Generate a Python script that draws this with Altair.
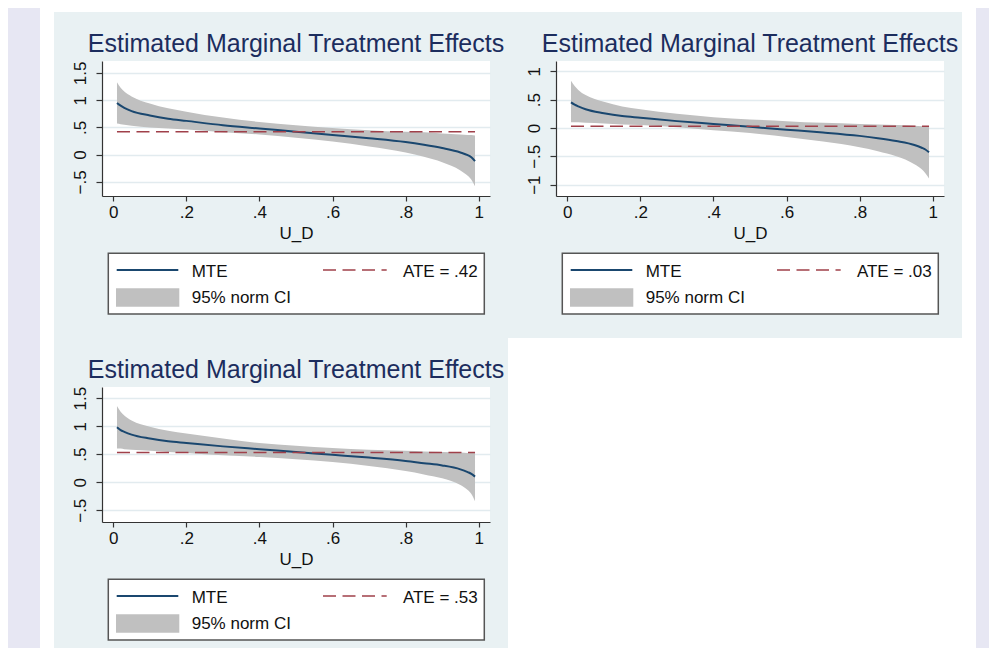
import altair as alt
import pandas as pd

# ---------------- data ----------------
U = [0.01, 0.02, 0.03, 0.05, 0.10, 0.15, 0.20, 0.30, 0.40, 0.50,
     0.60, 0.70, 0.80, 0.85, 0.90, 0.95, 0.97, 0.98, 0.99]

MTE_1 = [0.95, 0.90, 0.86, 0.80, 0.72, 0.66, 0.62, 0.54, 0.48, 0.42,
         0.36, 0.30, 0.23, 0.18, 0.12, 0.04, -0.01, -0.05, -0.12]
LO_1 = [0.57, 0.56, 0.55, 0.53, 0.50, 0.48, 0.46, 0.41, 0.37, 0.31,
        0.24, 0.15, 0.04, -0.04, -0.14, -0.29, -0.39, -0.46, -0.58]
HI_1 = [1.33, 1.23, 1.16, 1.07, 0.94, 0.85, 0.79, 0.68, 0.60, 0.54,
        0.49, 0.45, 0.42, 0.41, 0.39, 0.37, 0.36, 0.36, 0.35]

MTE_2 = [0.45, 0.41, 0.38, 0.33, 0.26, 0.21, 0.18, 0.12, 0.07, 0.02,
         -0.03, -0.08, -0.14, -0.18, -0.23, -0.30, -0.35, -0.38, -0.43]
LO_2 = [0.10, 0.10, 0.10, 0.09, 0.08, 0.06, 0.05, 0.01, -0.04, -0.09,
        -0.16, -0.24, -0.34, -0.41, -0.50, -0.64, -0.73, -0.80, -0.89]
HI_2 = [0.83, 0.74, 0.67, 0.58, 0.46, 0.38, 0.33, 0.25, 0.19, 0.15,
        0.12, 0.09, 0.07, 0.06, 0.05, 0.04, 0.03, 0.03, 0.03]

MTE_3 = [0.98, 0.93, 0.90, 0.85, 0.78, 0.73, 0.70, 0.64, 0.59, 0.54,
         0.49, 0.44, 0.38, 0.34, 0.30, 0.23, 0.18, 0.15, 0.10]
LO_3 = [0.60, 0.60, 0.59, 0.58, 0.56, 0.54, 0.52, 0.48, 0.45, 0.41,
        0.36, 0.29, 0.20, 0.14, 0.07, -0.05, -0.14, -0.21, -0.34]
HI_3 = [1.36, 1.26, 1.19, 1.10, 0.99, 0.92, 0.87, 0.78, 0.70, 0.65,
        0.61, 0.58, 0.56, 0.55, 0.54, 0.53, 0.52, 0.52, 0.52]

ATE = [0.42, 0.03, 0.53]

TITLE = "Estimated Marginal Treatment Effects"
X_TITLE = "U_D"
X_TICKS = [0, 0.2, 0.4, 0.6, 0.8, 1]
Y_TICKS_1 = [-0.5, 0, 0.5, 1, 1.5]
Y_TICKS_2 = [-1, -0.5, 0, 0.5, 1]
Y_TICKS_3 = [-0.5, 0, 0.5, 1, 1.5]
Y_DOM_1 = [-0.76, 1.72]
Y_DOM_2 = [-1.20, 1.18]
Y_DOM_3 = [-0.71, 1.70]
X_DOM = [-0.031, 1.031]
LEGEND_LABELS = ["MTE", "95% norm CI", "ATE = "]

# ---------------- styles ----------------
FONT = "Liberation Sans"
NAVY = "#1a476f"
RED = "#a0404a"
BAND = "#c0c0c0"
GRID = "#e2ebef"
BG = "#e9f1f3"
LAV = "#e7e7f3"
TITLE_C = "#1c2d5e"
INK = "#111111"
AX = "#333333"
W, H = 388, 135

LABEL_EXPR = "datum.value == 0 ? '0' : replace(format(datum.value, '.1~f'), '0.', '.')"


def one():
    return alt.Data(values=[{"k": 0}])


def rect(x, x2, y, y2, fill, **kw):
    return alt.Chart(one()).mark_rect(fill=fill, **kw).encode(
        x=alt.value(x), x2=alt.value(x2), y=alt.value(y), y2=alt.value(y2))


def text(s, x, y, size=17, align="left", color=INK):
    return alt.Chart(one()).mark_text(align=align, baseline="alphabetic", fontSize=size,
                                      font=FONT, color=color).encode(
        x=alt.value(x), y=alt.value(y), text=alt.value(s))


def stata_num(v):
    s = f"{v:.2f}"
    return s[1:] if s.startswith("0") else s


def legend(ate):
    box = rect(6.3, 382.3, 192.3, 253, "white", stroke="#555555", strokeWidth=1.5)
    l1 = alt.Chart(one()).mark_rule(color=NAVY, strokeWidth=2).encode(
        x=alt.value(14.7), x2=alt.value(76.3), y=alt.value(209))
    l2 = alt.Chart(one()).mark_rule(color=RED, strokeWidth=1.6, strokeDash=[13, 6.5]).encode(
        x=alt.value(221), x2=alt.value(284.7), y=alt.value(209))
    sw = rect(14, 77.3, 227.3, 245.7, BAND)
    t1 = text(LEGEND_LABELS[0], 89.7, 215.5)
    t2 = text(LEGEND_LABELS[1], 89.7, 242.3)
    t3 = text(LEGEND_LABELS[2] + stata_num(ate), 375.7, 215.5, align="right")
    return [box, l1, l2, sw, t1, t2, t3]


def backdrop():
    # page regions outside the grey-blue graph region (relative to first plot area)
    return [
        rect(-94, -62, -53, 587, LAV),
        rect(-62, -48, -53, 587, "white"),
        rect(-48, 860, -53, -49, "white"),
        rect(860, 874, -53, 587, "white"),
        rect(874, 887, -53, 587, LAV),
        rect(406, 860, 277, 587, "white"),
    ]


def panel(mte, lo, hi, ate, ydom, yticks, extra=None):
    df = pd.DataFrame({"u": U, "mte": mte, "lo": lo, "hi": hi})
    xscale = alt.Scale(domain=X_DOM, nice=False, zero=False)
    xaxis = alt.Axis(values=X_TICKS, labelExpr=LABEL_EXPR, grid=False,
                     domainColor=AX, domainWidth=1.2, tickColor=AX, tickWidth=1.2,
                     tickSize=5, labelFontSize=17, labelColor=INK, labelFont=FONT,
                     labelPadding=3, labelFlush=False, labelOverlap=False,
                     title=X_TITLE, titleFontSize=17, titleFontWeight="normal",
                     titleFont=FONT, titleColor=INK, titlePadding=5)
    yscale = alt.Scale(domain=ydom, nice=False, zero=False)
    yaxis = alt.Axis(values=yticks, labelExpr=LABEL_EXPR, grid=True, gridColor=GRID,
                     gridWidth=1.5, domainColor=AX, domainWidth=1.2, tickColor=AX,
                     tickWidth=1.2, tickSize=6, labelAngle=270, labelAlign="center",
                     labelBaseline="alphabetic", labelPadding=11, labelFontSize=17,
                     labelColor=INK, labelFont=FONT, labelOverlap=False,
                     labelSeparation=0, title=None)
    band = alt.Chart(df).mark_area(color=BAND, interpolate="monotone").encode(
        x=alt.X("u:Q", scale=xscale, axis=xaxis),
        y=alt.Y("lo:Q", scale=yscale, axis=yaxis), y2="hi:Q")
    line = alt.Chart(df).mark_line(color=NAVY, strokeWidth=2, interpolate="monotone").encode(
        x=alt.X("u:Q", scale=xscale, axis=xaxis),
        y=alt.Y("mte:Q", scale=yscale, axis=yaxis))
    adf = pd.DataFrame({"u": [U[0]], "u2": [U[-1]], "ate": [ate]})
    rule = alt.Chart(adf).mark_rule(color=RED, strokeWidth=1.6, strokeDash=[13, 6.5]).encode(
        x=alt.X("u:Q", scale=xscale, axis=xaxis), x2="u2:Q",
        y=alt.Y("ate:Q", scale=yscale, axis=yaxis))
    ttl = text(TITLE, W / 2, -9, size=25, align="center", color=TITLE_C)
    layers = (extra or []) + [band, line, rule, ttl] + legend(ate)
    return alt.layer(*layers).properties(width=W, height=H)


p1 = panel(MTE_1, LO_1, HI_1, ATE[0], Y_DOM_1, Y_TICKS_1, extra=backdrop())
p2 = panel(MTE_2, LO_2, HI_2, ATE[1], Y_DOM_2, Y_TICKS_2)
p3 = panel(MTE_3, LO_3, HI_3, ATE[2], Y_DOM_3, Y_TICKS_3)

chart = alt.concat(p1, p2, p3, columns=2, spacing={"row": 191, "column": 66},
                   bounds="flush").properties(padding=0, background=BG)
chart = chart.configure(font=FONT).configure_axis(labelOverlap=False).configure_view(
    fill="white", strokeWidth=0)

chart.save("out.html", embed_options={"renderer": "svg", "actions": False})
